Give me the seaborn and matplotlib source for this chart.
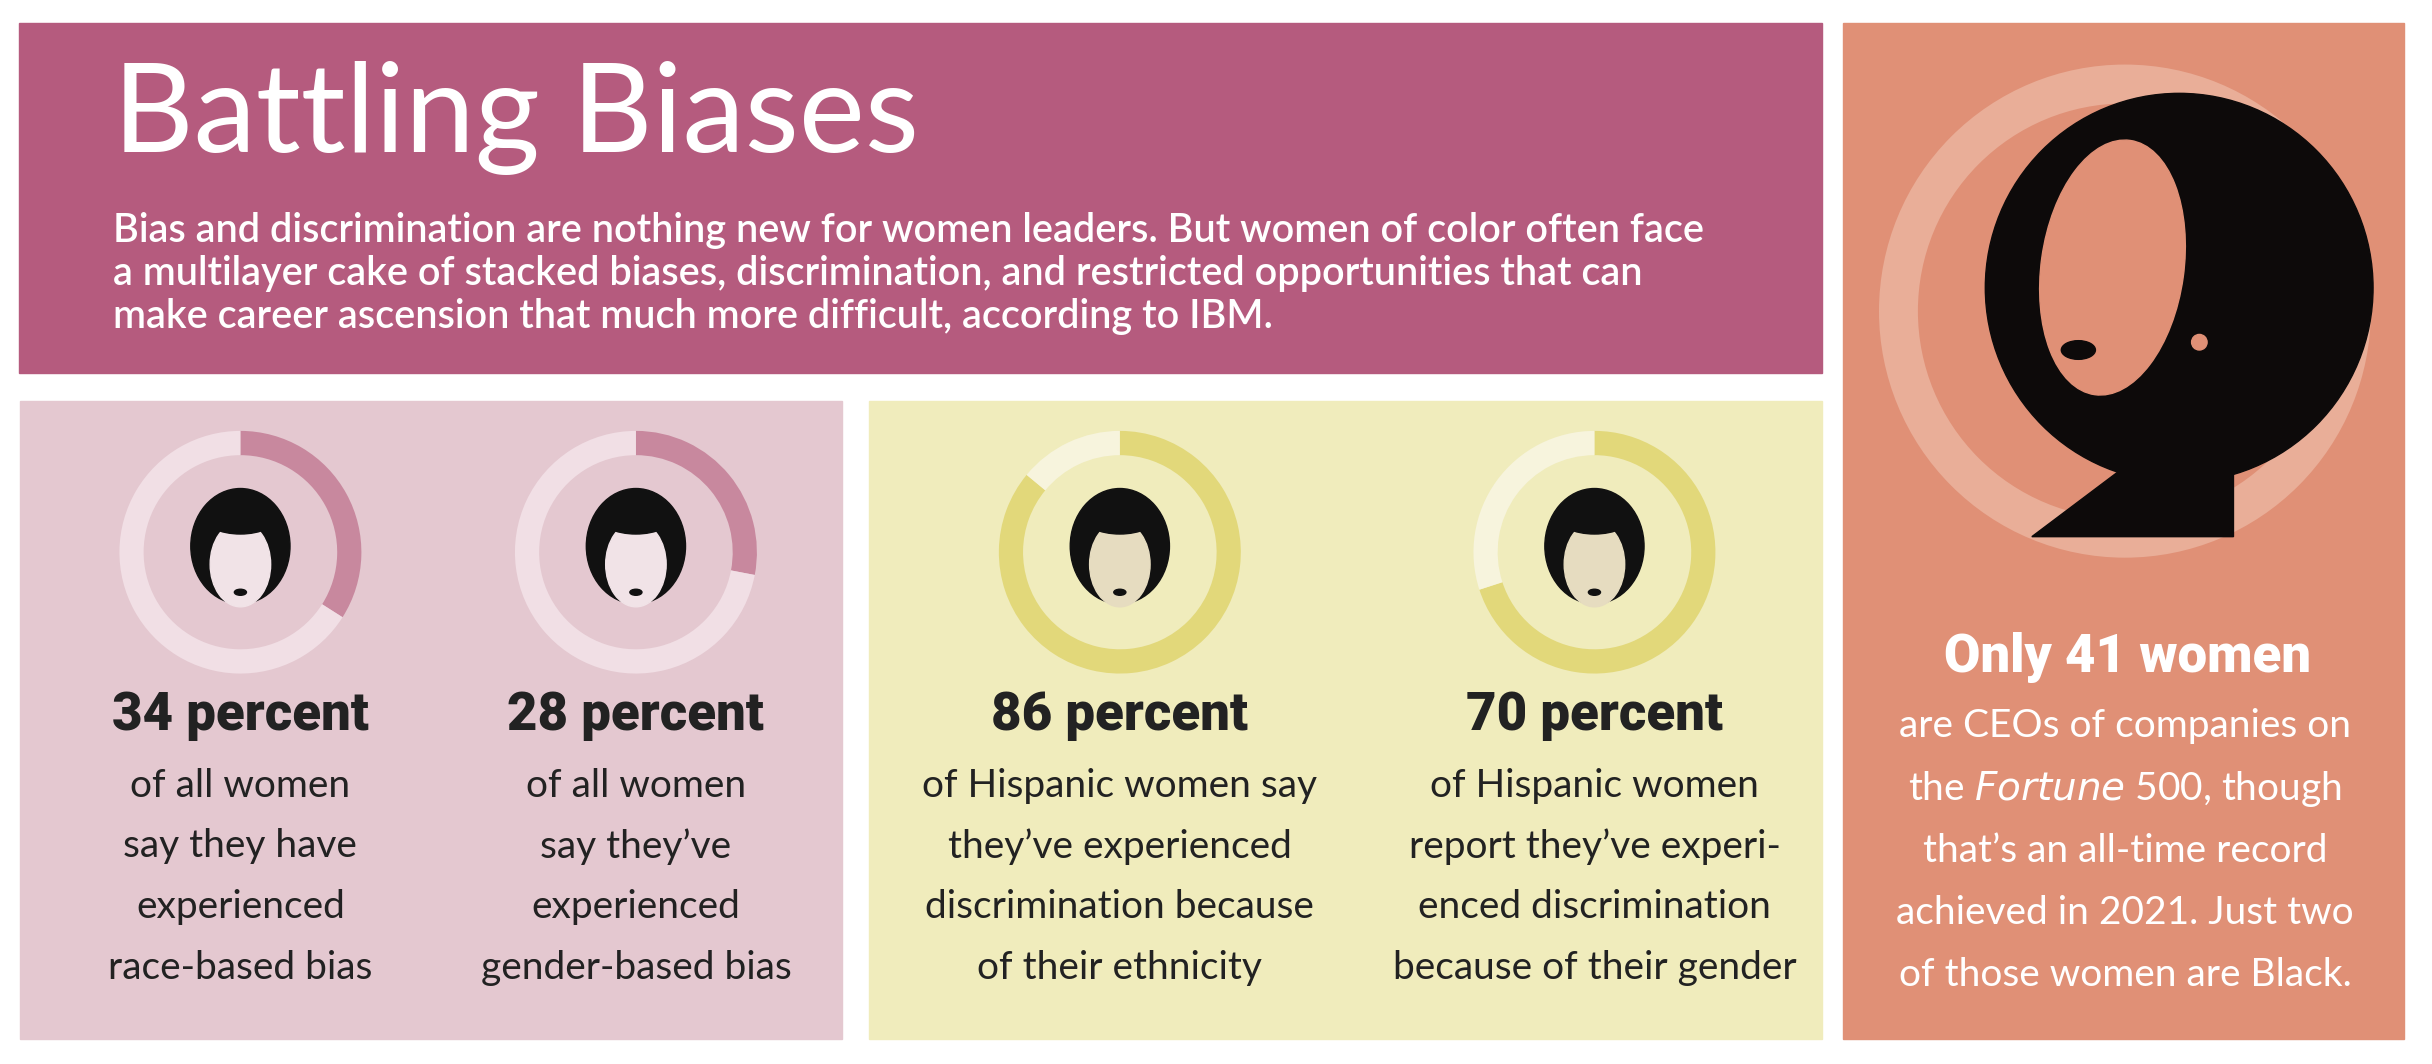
import matplotlib
matplotlib.use("Agg")
import matplotlib.pyplot as plt
from matplotlib.patches import Rectangle, Circle, Ellipse, Polygon
import seaborn as sns

sns.set_style("white")
plt.rcParams["font.family"] = ["Lato", "DejaVu Sans"]

# data
stat_values = [34, 28, 86, 70]
stat_heads = ["34 percent", "28 percent", "86 percent", "70 percent"]
stat_texts = [
    ["of all women", "say they have", "experienced", "race-based bias"],
    ["of all women", "say they\u2019ve", "experienced", "gender-based bias"],
    ["of Hispanic women say", "they\u2019ve experienced", "discrimination because", "of their ethnicity"],
    ["of Hispanic women", "report they\u2019ve experi-", "enced discrimination", "because of their gender"],
]
title = "Battling Biases"
intro = ("Bias and discrimination are nothing new for women leaders. But women of color often face\n"
         "a multilayer cake of stacked biases, discrimination, and restricted opportunities that can\n"
         "make career ascension that much more difficult, according to IBM.")
ceo_count = 41
ceo_lines = ["are CEOs of companies on", "the $\\it{Fortune}$ 500, though",
             "that\u2019s an all-time record", "achieved in 2021. Just two",
             "of those women are Black."]

W, H = 1568, 684
fig = plt.figure(figsize=(24.32, 10.64), dpi=100)
ax = fig.add_axes([0, 0, 1, 1])
ax.set_xlim(0, W)
ax.set_ylim(H, 0)
ax.axis("off")

PINK_BG, PINK_RING, PINK_FG = "#e4c8d0", "#f1dfe5", "#c8889e"
YEL_BG, YEL_RING, YEL_FG = "#f0ecbc", "#f7f4dd", "#e2d87a"

ax.add_patch(Rectangle((12, 15), 1163, 225, color="#b55b7e"))
ax.add_patch(Rectangle((1188, 15), 362, 653, color="#e09076"))
ax.add_patch(Rectangle((13, 258), 530, 410, color=PINK_BG))
ax.add_patch(Rectangle((560, 258), 615, 410, color=YEL_BG))

ax.text(73, 76, title, fontsize=90, color="white", va="center", fontweight="normal")
ax.text(73, 176, intro, fontsize=28.5, color="white", va="center", linespacing=1.2,
        fontweight="semibold")

centers = [155, 410, 722, 1028]
r = 78
for i, (cx, v) in enumerate(zip(centers, stat_values)):
    ring, fg = (PINK_RING, PINK_FG) if i < 2 else (YEL_RING, YEL_FG)
    iax = fig.add_axes([(cx - r) / W, 1 - (355 + r) / H, 2 * r / W, 2 * r / H])
    iax.pie([v, 100 - v], colors=[fg, ring], startangle=90, counterclock=False,
            wedgeprops=dict(width=0.2, linewidth=0))
    iax.set_aspect("auto")
    # simple head icon
    iax.add_patch(Ellipse((0, 0.05), 0.82, 0.95, color="#111111"))
    iax.add_patch(Ellipse((0, -0.1), 0.5, 0.7, color="#e6dcc0" if i >= 2 else "#f1e3e7"))
    iax.add_patch(Ellipse((0, 0.3), 0.62, 0.3, color="#111111"))
    iax.add_patch(Ellipse((0, -0.33), 0.1, 0.05, color="#111111"))
    iax.set_xlim(-1, 1)
    iax.set_ylim(-1, 1)
    ax.text(cx, 460, stat_heads[i], fontsize=38, fontweight="heavy", ha="center",
            va="center", color="#222222", family=["Roboto", "DejaVu Sans"])
    for j, line in enumerate(stat_texts[i]):
        ax.text(cx, 505 + 39 * j, line, fontsize=28, ha="center", va="center", color="#222222")

# CEO portrait
ax.add_patch(Circle((1370, 200), 146, fill=False, lw=28, ec="#e9ae98"))
ax.add_patch(Ellipse((1405, 185), 250, 250, color="#0d0a0a"))
ax.add_patch(Polygon([(1310, 345), (1370, 300), (1440, 270), (1440, 345)], color="#0d0a0a"))
ax.add_patch(Ellipse((1362, 172), 92, 165, angle=8, color="#e09076"))
ax.add_patch(Ellipse((1340, 225), 22, 12, color="#0d0a0a"))
ax.add_patch(Circle((1418, 220), 5, color="#e09076"))

ax.text(1372, 423, f"Only {ceo_count} women", fontsize=38, fontweight="heavy", ha="center",
        va="center", color="white", family=["Roboto", "DejaVu Sans"])
for j, line in enumerate(ceo_lines):
    ax.text(1370, 467 + 40 * j, line, fontsize=28, ha="center", va="center", color="white")

fig.savefig("out.png", dpi=100, facecolor="white")
